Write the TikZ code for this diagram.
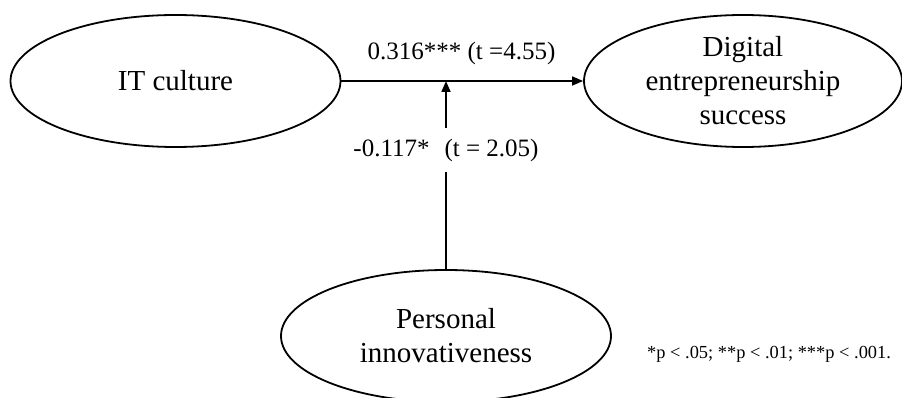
\documentclass[tikz,border=0pt]{standalone}
\usepackage{fontspec}
\setmainfont{Liberation Serif}
\usetikzlibrary{shapes.geometric,arrows.meta}
\begin{document}
\begin{tikzpicture}[x=1pt,y=-1pt,
  construct/.style={ellipse,draw,line width=1.8pt,inner sep=0pt,
    minimum width=330pt,minimum height=132pt,align=center,
    font=\fontsize{29}{34}\selectfont},
  effect/.style={line width=1.7pt,-{Triangle[length=11pt,width=9pt]}},
  coef/.style={font=\fontsize{25}{30}\selectfont,inner sep=0pt},
]
\path[use as bounding box, clip] (0,0) rectangle (902,398);

% latent constructs
\node[construct] (it) at (175.5,81) {IT culture};
\node[construct,minimum width=318pt] (des) at (743,81)
  {Digital\\entrepreneurship\\success};
\node[construct] (pi) at (446,336) {Personal\\innovativeness};

% path coefficients
\node[coef] (b1) at (461.5,53) {0.316*** (t =4.55)};
\node[coef,minimum height=44pt] (b2) at (446,150)
  {-0.117*\hspace{15pt}(t = 2.05)};

% direct effect and moderation
\draw[effect] (it) -- (des);
\draw[line width=1.5pt] (pi.north) -- (b2.south);
\draw[effect] (b2.north) -- (b2.north |- it.east);

% significance note
\node[font=\fontsize{18.4}{22}\selectfont,anchor=base west,inner sep=0pt] (note)
  at (647,358) {*p < .05; **p < .01; ***p < .001.};
\end{tikzpicture}
\end{document}
